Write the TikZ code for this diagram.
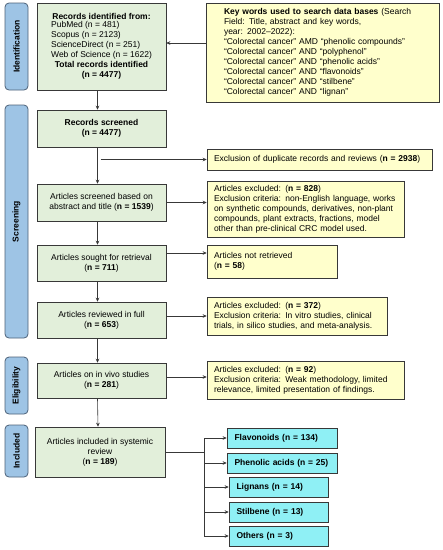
\documentclass[tikz,border=0pt]{standalone}
\usepackage{fontspec}
\setmainfont{Liberation Sans}
\usepackage{tikz}
\usetikzlibrary{positioning}
\usetikzlibrary{arrows.meta}
\definecolor{phaseColor}{rgb}{0.62,0.77,0.90}
\definecolor{phaseLine}{rgb}{0.30,0.38,0.47}
\definecolor{stepColor}{rgb}{0.886,0.937,0.855}
\definecolor{noteColor}{rgb}{1,1,0.8}
\definecolor{groupColor}{rgb}{0.56,0.94,0.96}
\definecolor{lineColor}{rgb}{0.22,0.22,0.22}

\begin{document}
\begin{tikzpicture}[x=1pt,y=-1pt,font=\fontsize{8.5}{10}\selectfont]

            \tikzstyle{phaseBar} = [draw=phaseLine, thick, fill=phaseColor, rounded corners=4pt, rotate=90, minimum height=23pt, inner sep=0pt, font=\fontsize{8.5}{10}\selectfont\bfseries];
            \tikzstyle{stepBox} = [draw=lineColor, semithick, fill=stepColor, minimum width=129pt, align=center, inner sep=2pt];
            \tikzstyle{noteBox} = [draw=lineColor, semithick, fill=noteColor, align=left, inner sep=0pt];
            \tikzstyle{groupBox} = [draw=lineColor, semithick, fill=groupColor, minimum height=20pt, align=left, inner sep=0pt, font=\fontsize{8.5}{10}\selectfont\bfseries];
            \tikzstyle{arr} = [semithick, lineColor, -{Stealth[length=4pt,width=3.6pt]}];
            \tikzstyle{normalEdge} = [semithick, lineColor];

            \useasboundingbox (0,0) rectangle (443,550);

            % phases
            \node[phaseBar, minimum width=87pt]  (pid)   at (16.5,46.5)  {Identification};
            \node[phaseBar, minimum width=233pt] (pscr)  at (16.5,221.5) {Screening};
            \node[phaseBar, minimum width=57pt]  (pelig) at (16.5,385.5) {Eligibility};
            \node[phaseBar, minimum width=52pt]  (pincl) at (16.5,451)   {Included};

            % main steps
            \node[stepBox, minimum height=87pt] (ident) at (101.5,46.5) {\textbf{Records identified from:}\\
              \begin{tabular}{@{}l@{}}PubMed (n = 481)\\Scopus (n = 2123)\\ScienceDirect (n = 251)\\Web of Science (n = 1622)\end{tabular}\\
              \textbf{Total records identified}\\\textbf{(n = 4477)}};
            \node[stepBox, minimum height=37pt] (screened) at (101.5,128.5) {\textbf{Records screened}\\\textbf{(n = 4477)}};
            \node[stepBox, minimum height=37pt] (absscr) at (101.5,202.5) {Articles screened based on\\abstract and title (\textbf{n = 1539})};
            \node[stepBox, minimum height=36pt] (sought) at (101.5,263) {Articles sought for retrieval\\(\textbf{n = 711})};
            \node[stepBox, minimum height=36pt] (full) at (101.5,320) {Articles reviewed in full\\(\textbf{n = 653})};
            \node[stepBox, minimum height=35pt] (invivo) at (101.5,380.5) {Articles on in vivo studies\\(\textbf{n = 281})};
            \node[stepBox, minimum width=130pt, minimum height=50pt] (incl) at (100,452) {Articles included in systemic\\review\\(\textbf{n = 189})};

            % notes
            \node[noteBox, minimum width=233pt, minimum height=99pt, text width=197pt] (keys) at (322.5,52.5) {\textbf{Key words used to search data bases} (Search\\
              Field: Title, abstract and key words,\\
              year: 2002--2022):\\
              ``Colorectal cancer'' AMD ``phenolic compounds''\\
              ``Colorectal cancer'' AND ``polyphenol''\\
              ``Colorectal cancer'' AND ``phenolic acids''\\
              ``Colorectal cancer'' AND ``flavonoids''\\
              ``Colorectal cancer'' AND ``stilbene''\\
              ``Colorectal cancer'' AND ``lignan''};
            \node[noteBox, minimum width=225pt, minimum height=21pt, text width=211pt] (dup) at (319.5,159.5) {Exclusion of duplicate records and reviews (\textbf{n = 2938})};
            \node[noteBox, minimum width=197pt, minimum height=56pt, text width=183pt] (ex828) at (305.5,209) {Articles excluded: (\textbf{n = 828})\\
              Exclusion criteria: non-English language, works\\
              on synthetic compounds, derivatives, non-plant\\
              compounds, plant extracts, fractions, model\\
              other than pre-clinical CRC model used.};
            \node[noteBox, minimum width=130pt, minimum height=33pt, text width=116pt] (notret) at (272,261.5) {Articles not retrieved\\(\textbf{n = 58})};
            \node[noteBox, minimum width=180pt, minimum height=38pt, text width=166pt] (ex372) at (297,316) {Articles excluded: (\textbf{n = 372})\\
              Exclusion criteria: In vitro studies, clinical\\
              trials, in silico studies, and meta-analysis.};
            \node[noteBox, minimum width=197pt, minimum height=38pt, text width=183pt] (ex92) at (305.5,380) {Articles excluded: (\textbf{n = 92})\\
              Exclusion criteria: Weak methodology, limited\\
              relevance, limited presentation of findings.};

            % groups
            \node[groupBox, minimum width=110pt, text width=95pt] (flav) at (282,438) {Flavonoids (n = 134)};
            \node[groupBox, minimum width=110pt, text width=95pt] (phen) at (282,463) {Phenolic acids (n = 25)};
            \node[groupBox, minimum width=99pt, text width=84pt] (lign) at (278.5,487) {Lignans (n = 14)};
            \node[groupBox, minimum width=99pt, text width=84pt] (stil) at (278.5,512) {Stilbene (n = 13)};
            \node[groupBox, minimum width=99pt, text width=84pt] (oth) at (278.5,536) {Others (n = 3)};

            \coordinate (br) at (204,452);

            \draw[arr] ([yshift=9.5pt]keys.west) -- ([yshift=9.5pt]keys.west -| ident.east);
            \draw[arr] ([xshift=-4pt]ident.south) -- ([xshift=-4pt]screened.north);
            \draw[arr] ([xshift=-4pt]screened.south) -- ([xshift=-4pt]absscr.north);
            \draw[arr] ([xshift=-1pt]screened.south |- dup.west) -- (dup.west);
            \draw[arr] (absscr.east) -- (absscr.east -| ex828.west);
            \draw[arr] ([xshift=-4pt]absscr.south) -- ([xshift=-4pt]sought.north);
            \draw[arr] ([yshift=8.5pt]notret.west -| sought.east) -- ([yshift=8.5pt]notret.west);
            \draw[arr] ([xshift=-4pt]sought.south) -- ([xshift=-4pt]full.north);
            \draw[arr] (ex372.west -| full.east) -- (ex372.west);
            \draw[arr] ([xshift=-4pt]full.south) -- ([xshift=-4pt]invivo.north);
            \draw[arr] ([yshift=3pt]ex92.west -| invivo.east) -- ([yshift=3pt]ex92.west);
            \draw[arr] ([xshift=-4pt]invivo.south) -- ([xshift=-2pt]incl.north);

            \draw[normalEdge] (incl.east) -- (br);
            \draw[normalEdge] (flav.west -| br) -- (oth.west -| br);
            \foreach \g in {flav,phen,lign,stil,oth}
              \draw[arr] (\g.west -| br) -- (\g.west);
          \end{tikzpicture}
\end{document}
